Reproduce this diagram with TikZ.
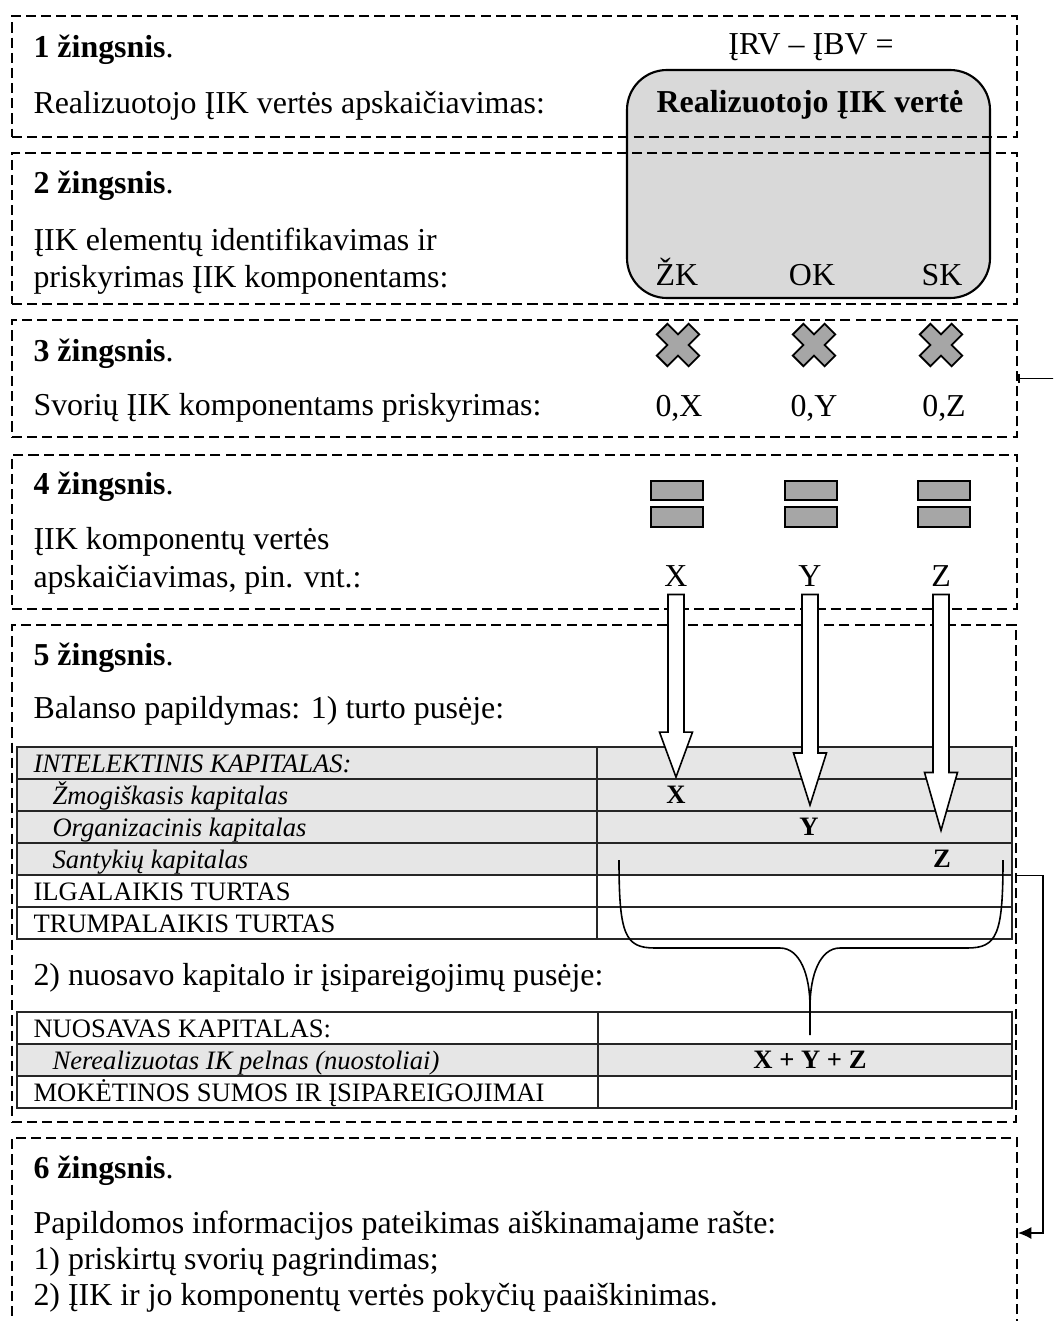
\documentclass[tikz,border=0pt]{standalone}
\usepackage{fontspec}
\setmainfont{Liberation Serif}
\usetikzlibrary{arrows.meta,calc}

\newcommand{\pxl}{0.376pt}
\definecolor{boxgray}{HTML}{D9D9D9}
\definecolor{tabgray}{HTML}{E6E6E6}
\definecolor{markgray}{HTML}{A6A6A6}

\tikzset{
  stepbox/.style={draw, line width=0.75pt, dash pattern=on 3.8pt off 1.9pt, minimum width=1005*\pxl, inner sep=0pt},
  valbox/.style={draw, line width=0.8pt, fill=boxgray, rounded corners=15pt, minimum width=363*\pxl, minimum height=228*\pxl, inner sep=0pt},
  steptext/.style={anchor=base west, inner sep=0pt, font=\fontsize{12}{13.8}\selectfont},
  valtext/.style={anchor=base, inner sep=0pt, font=\fontsize{12}{13.8}\selectfont},
  vallabel/.style={valtext, inner sep=3pt},
  tabrow/.style={draw=black!85, line width=0.5pt, minimum width=995*\pxl, minimum height=32*\pxl, inner sep=0pt},
  tabline/.style={draw=black!85, line width=0.5pt},
  tabtext/.style={anchor=base west, inner sep=0pt, font=\fontsize{10}{12}\selectfont},
  tabit/.style={tabtext, font=\fontsize{10}{12}\selectfont\itshape},
  tabval/.style={anchor=base, inner sep=3pt, font=\fontsize{10}{12}\selectfont\bfseries},
  markline/.style={draw=black, line width=0.7pt, fill=markgray},
  blockarrow/.style={draw=black, line width=0.6pt, fill=white},
  sideline/.style={line width=0.5pt},
  bracket/.style={line width=0.6pt},
  wcross/.pic={
    \draw[markline, rotate=45] (7.5,22.5) -- (7.5,7.5) -- (22.5,7.5) -- (22.5,-7.5) -- (7.5,-7.5) -- (7.5,-22.5) -- (-7.5,-22.5) -- (-7.5,-7.5) -- (-22.5,-7.5) -- (-22.5,7.5) -- (-7.5,7.5) -- (-7.5,22.5) -- cycle;
  },
  eqmark/.pic={
    \draw[markline] (-26,-23) rectangle (26,-4);
    \draw[markline] (-26,3) rectangle (26,23);
  }
}

\begin{document}
\begin{tikzpicture}[x=0.376pt,y=-0.376pt]
  \useasboundingbox (0,0) rectangle (1053,1321);
  \clip (0,0) rectangle (1053,1321);

  % value of realised IC
  \node[valbox] (ivalue) at (808.5,184) {};
  \node[valtext] (ratio) at (811,55) {ĮRV – ĮBV =};
  \node[valtext, font=\fontsize{12}{13.8}\selectfont\bfseries] (ivtitle) at (810,112) {Realizuotojo ĮIK vertė};
  \node[valtext] (zk) at (677,285) {ŽK};
  \node[valtext] (ok) at (812,285) {OK};
  \node[valtext] (sk) at (942,285) {SK};

  % step frames
  \node[stepbox, minimum height=121*\pxl] (b1) at (514.5,76.5) {};
  \node[stepbox, minimum height=151*\pxl] (b2) at (514.5,228.5) {};
  \node[stepbox, minimum height=117*\pxl] (b3) at (514.5,378.5) {};
  \node[stepbox, minimum height=154*\pxl] (b4) at (514.5,532) {};
  \node[stepbox, minimum width=1004*\pxl, minimum height=497*\pxl] (b5) at (514,873.5) {};
  \node[stepbox, minimum height=202*\pxl] (b6) at (514.5,1239) {};

  % step texts
  \node[steptext] (s1h) at (33,57) {\textbf{1 žingsnis}.};
  \node[steptext] (s1a) at (33,113) {Realizuotojo ĮIK vertės apskaičiavimas:};
  \node[steptext] (s2h) at (33,193) {\textbf{2 žingsnis}.};
  \node[steptext] (s2a) at (33,250) {ĮIK elementų identifikavimas ir};
  \node[steptext] (s2b) at (33,287) {priskyrimas ĮIK komponentams:};
  \node[steptext] (s3h) at (33,361) {\textbf{3 žingsnis}.};
  \node[steptext] (s3a) at (33,415) {Svorių ĮIK komponentams priskyrimas:};
  \node[steptext] (s4h) at (33,494) {\textbf{4 žingsnis}.};
  \node[steptext] (s4a) at (33,549) {ĮIK komponentų vertės};
  \node[steptext] (s4b) at (33,587) {apskaičiavimas, pin. vnt.:};
  \node[steptext] (s5h) at (33,665) {\textbf{5 žingsnis}.};
  \node[steptext] (s5a) at (33,718) {Balanso papildymas: 1) turto pusėje:};
  \node[steptext] (s5b) at (33,985) {2) nuosavo kapitalo ir įsipareigojimų pusėje:};
  \node[steptext] (s6h) at (33,1178) {\textbf{6 žingsnis}.};
  \node[steptext] (s6a) at (33,1233) {Papildomos informacijos pateikimas aiškinamajame rašte:};
  \node[steptext] (s6b) at (33,1269) {1) priskirtų svorių pagrindimas;};
  \node[steptext] (s6c) at (33,1305) {2) ĮIK ir jo komponentų vertės pokyčių paaiškinimas.};

  % weights
  \pic (cx) at (678,345) {wcross};
  \pic (cy) at (814,345) {wcross};
  \pic (cz) at (941,345) {wcross};
  \node[valtext] (wx) at (679,416) {0,X};
  \node[valtext] (wy) at (814,416) {0,Y};
  \node[valtext] (wz) at (944,416) {0,Z};

  % component values
  \pic (ex) at (677,504) {eqmark};
  \pic (ey) at (811,504) {eqmark};
  \pic (ez) at (944,504) {eqmark};
  \node[vallabel] (lx) at (676,586) {X};
  \node[vallabel] (ly) at (810,586) {Y};
  \node[vallabel] (lz) at (941,586) {Z};

  % assets side
  \node[tabrow, fill=tabgray] (r1) at (514.5,763) {};
  \node[tabrow, fill=tabgray] (r2) at (514.5,795) {};
  \node[tabrow, fill=tabgray] (r3) at (514.5,827) {};
  \node[tabrow, fill=tabgray] (r4) at (514.5,859) {};
  \node[tabrow] (r5) at (514.5,891) {};
  \node[tabrow] (r6) at (514.5,923) {};
  \draw[tabline] (597,747) -- (597,939);
  \node[tabit] (t1) at (33,772) {INTELEKTINIS KAPITALAS:};
  \node[tabit] (t2) at (52,804) {Žmogiškasis kapitalas};
  \node[tabit] (t3) at (52,836) {Organizacinis kapitalas};
  \node[tabit] (t4) at (52,868) {Santykių kapitalas};
  \node[tabtext] (t5) at (33,900) {ILGALAIKIS TURTAS};
  \node[tabtext] (t6) at (33,932) {TRUMPALAIKIS TURTAS};
  \node[tabval] (vx) at (676,803) {X};
  \node[tabval] (vy) at (809,835) {Y};
  \node[tabval] (vz) at (942,867) {Z};

  % equity and liabilities side
  \node[tabrow] (q1) at (514.5,1028) {};
  \node[tabrow, fill=tabgray] (q2) at (514.5,1060) {};
  \node[tabrow] (q3) at (514.5,1092) {};
  \draw[tabline] (598,1012) -- (598,1108);
  \node[tabtext] (u1) at (33,1037) {NUOSAVAS KAPITALAS:};
  \node[tabit] (u2) at (52,1069) {Nerealizuotas IK pelnas (nuostoliai)};
  \node[tabtext] (u3) at (33,1101) {MOKĖTINOS SUMOS IR ĮSIPAREIGOJIMAI};
  \node[tabval] (vsum) at (810,1068) {X + Y + Z};

  % block arrows
  \draw[blockarrow] let \p1=(lx.south), \p2=(vx.north) in
    (\x1-3pt,\y1) -- (\x1-3pt,\y2+16.9pt) -- (\x1-6.2pt,\y2+16.9pt) -- (\x1,\y2) -- (\x1+6.2pt,\y2+16.9pt) -- (\x1+3pt,\y2+16.9pt) -- (\x1+3pt,\y1) -- cycle;
  \draw[blockarrow] let \p1=(ly.south), \p2=([yshift=1.5pt]vy.north) in
    (\x1-3pt,\y1) -- (\x1-3pt,\y2+19.6pt) -- (\x1-6.2pt,\y2+19.6pt) -- (\x1,\y2) -- (\x1+6.2pt,\y2+19.6pt) -- (\x1+3pt,\y2+19.6pt) -- (\x1+3pt,\y1) -- cycle;
  \draw[blockarrow] let \p1=(lz.south), \p2=([yshift=4pt]vz.north) in
    (\x1-3pt,\y1) -- (\x1-3pt,\y2+21.8pt) -- (\x1-6.2pt,\y2+21.8pt) -- (\x1,\y2) -- (\x1+6.2pt,\y2+21.8pt) -- (\x1+3pt,\y2+21.8pt) -- (\x1+3pt,\y1) -- cycle;

  % brace to the sum
  \draw[bracket] (619,860) .. controls (619,935) and (625,948) .. (655,948) -- (780,948)
    .. controls (800,948) and (810,975) .. (810,1007) -- ([yshift=2.6pt]vsum.north);
  \draw[bracket] (1003,860) .. controls (1003,935) and (997,948) .. (967,948) -- (840,948)
    .. controls (820,948) and (810,975) .. (810,1007);

  % side connectors
  \coordinate (b3out) at (1070,378.5);
  \draw[sideline, {Bar[width=3.5pt,line width=0.7pt]}-] (b3.east) -- (b3out);
  \coordinate (sidebend) at (1043,1233);
  \draw[sideline, -{Latex[length=5pt,width=4.5pt]}] (b5.east |- r4.south) -| (sidebend) -- (b6.east |- s6a.base);
\end{tikzpicture}
\end{document}
